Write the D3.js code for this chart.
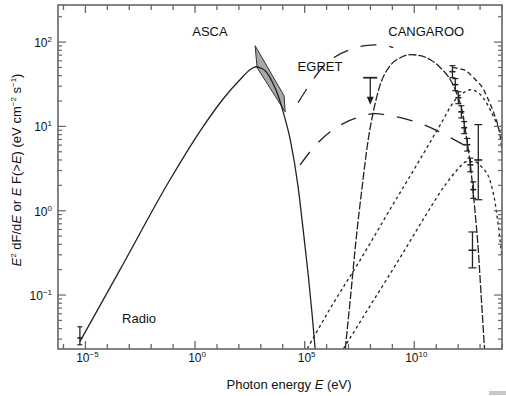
<!DOCTYPE html>
<html>
<head>
<meta charset="utf-8">
<script src="https://d3js.org/d3.v7.min.js"></script>
<style>
  body { margin: 0; background: #fff; }
  text { font-family: "Liberation Sans", Arial, sans-serif; fill: #111; }
</style>
</head>
<body>
<div id="chart"></div>
<script>
// photon energy E (eV), flux E^2 dF/dE (eV cm^-2 s^-1)
var synchrotron = [
  [5.6e-6, 0.028], [3.8e-4, 0.2], [0.072, 2.33], [1.7, 8.8], [23, 22.5],
  [112, 35.8], [324, 47.1], [617, 51], [1150, 48.3], [1580, 45.8],
  [3300, 33.9], [6200, 23.1], [1.04e4, 14.9], [2.2e4, 6.95], [5.0e4, 1.93],
  [8.5e4, 0.60], [1.45e5, 0.174], [2.2e5, 0.058], [3.0e5, 0.023]
];
var ascaBowtie = [[550, 90.6], [1.15e4, 23.1], [1.29e4, 14.9], [676, 49.7]];

var pionCurve = [
  [7.1e6, 0.023], [1.2e7, 0.088], [2.2e7, 0.45], [4.3e7, 2.03], [7.9e7, 6.95],
  [1.35e8, 14.9], [2.8e8, 31.3], [7.9e8, 52.5], [2.3e9, 65.3], [6.6e9, 71],
  [1.9e10, 69], [5.4e10, 61.8], [1.55e11, 49.7], [4.4e11, 35.8], [9.1e11, 23.8],
  [1.55e12, 14.9], [2.3e12, 8.0], [3.6e12, 3.5], [5.5e12, 1.18], [8.3e12, 0.34],
  [1.15e13, 0.088], [1.6e13, 0.023]
];
var bremsUpper = [
  [5.0e4, 19.1], [1.8e5, 32.1], [6.3e5, 49.7], [2.5e6, 67.1], [1.2e7, 81.3],
  [5.8e7, 90.6], [2.8e8, 93.1], [1.1e9, 85.7]
];
var bremsLower = [
  [6.2e4, 3.5], [3.0e5, 5.9], [1.45e6, 8.65], [7.1e6, 11.1], [3.4e7, 13.0],
  [1.66e8, 14.2], [7.9e8, 13.4], [3.9e9, 12.3], [1.9e10, 10.8], [9.1e10, 9.1],
  [4.4e11, 7.35], [2.1e12, 5.9], [3.6e12, 5.4]
];
var icUpper = [
  [1.3e5, 0.023], [1.45e6, 0.069], [3.4e7, 0.26], [7.9e8, 1.04], [1.9e10, 4.14],
  [1.55e11, 10.5], [7.4e11, 20.7], [1.74e12, 25.1], [3.6e12, 27.2], [8.3e12, 25.1],
  [1.95e13, 19.1], [4.1e13, 13.0], [6.9e13, 9.7], [1.15e14, 6.6]
];
var icLower = [
  [5.8e6, 0.023], [9.8e7, 0.075], [2.3e9, 0.28], [3.2e10, 0.87], [2.6e11, 2.03],
  [1.02e12, 3.15], [2.3e12, 3.81], [5.5e12, 3.81], [1.26e13, 3.24], [2.95e13, 2.21],
  [5.0e13, 1.18], [7.6e13, 0.52], [1.15e14, 0.20]
];
var tevCurve = [
  [5.5e11, 49.7], [1.74e12, 47.1], [6.2e12, 35.8], [1.29e13, 28.8], [2.4e13, 20.7],
  [4.5e13, 13.8], [6.9e13, 9.7], [9.3e13, 6.1], [1.15e14, 3.5]
];

// [E, F, F low, F high]
var cangarooDiff = [
  [5.5e11, 44.6, 37.8, 52.5], [7.4e11, 31.3, 26.5, 36.9], [1.02e12, 21.9, 18.6, 25.8],
  [1.4e12, 14.9, 12.6, 17.6], [1.9e12, 9.65, 8.2, 11.4], [2.6e12, 6.07, 5.1, 7.2],
  [3.6e12, 3.5, 2.9, 4.2], [4.9e12, 1.78, 1.4, 2.2]
];
var cangarooInt = [[8.3e12, 4.0, 1.35, 10.5], [4.5e12, 0.34, 0.21, 0.56]];
var radioPoint = [[5.6e-6, 0.031, 0.0257, 0.042]];
var egretLimit = [[9.8e7, 37.8, 18.1]];

var xLabelExp = [-5, 0, 5, 10];
var yLabelExp = [-1, 0, 1, 2];
var labels = [
  {text: "ASCA", e: 4.8, f: 119},
  {text: "CANGAROO", e: 3.5e10, f: 119},
  {text: "EGRET", e: 5.0e5, f: 46},
  {text: "Radio", e: 2.8e-3, f: 0.046}
];

var W = 506, H = 396;
var x = d3.scaleLog().domain([Math.pow(10, -6.25), 1e14]).range([58, 502]);
var y = d3.scaleLog().domain([Math.pow(10, -1.64), Math.pow(10, 2.44)]).range([349, 5]);

var svg = d3.select("#chart").append("svg").attr("width", W).attr("height", H);

svg.append("defs").append("clipPath").attr("id", "plotclip")
  .append("rect").attr("x", 58).attr("y", 5).attr("width", 444).attr("height", 344);

var plot = svg.append("g").attr("clip-path", "url(#plotclip)");

var line = d3.line()
  .x(function(d) { return x(d[0]); })
  .y(function(d) { return y(d[1]); })
  .curve(d3.curveMonotoneX);

// ASCA bowtie
plot.append("path")
  .attr("d", d3.line().x(function(d) { return x(d[0]); }).y(function(d) { return y(d[1]); })(ascaBowtie) + "Z")
  .attr("fill", "#a8a8a8").attr("stroke", "#333").attr("stroke-width", 1);

function curve(data, dash, w) {
  plot.append("path").attr("d", line(data))
    .attr("fill", "none").attr("stroke", "#222")
    .attr("stroke-width", w || 1.3)
    .attr("stroke-dasharray", dash);
}
curve(synchrotron, null, 1.3);
curve(pionCurve, "8,2");
curve(bremsUpper, "16,13");
curve(bremsLower, "16,13");
curve(icUpper, "3,3");
curve(icLower, "3,3");
curve(tevCurve, "5,3");

// error bars
function errbars(data, cap) {
  data.forEach(function(d) {
    var cx = x(d[0]);
    plot.append("line").attr("x1", cx).attr("x2", cx).attr("y1", y(d[2])).attr("y2", y(d[3]))
      .attr("stroke", "#222").attr("stroke-width", 1.3);
    [d[2], d[3]].forEach(function(v) {
      plot.append("line").attr("x1", cx - cap).attr("x2", cx + cap).attr("y1", y(v)).attr("y2", y(v))
        .attr("stroke", "#222").attr("stroke-width", 1.2);
    });
    plot.append("line").attr("x1", cx - cap).attr("x2", cx + cap).attr("y1", y(d[1])).attr("y2", y(d[1]))
      .attr("stroke", "#222").attr("stroke-width", 1.6);
  });
}
errbars(cangarooDiff, 3);
errbars(cangarooInt, 4);
errbars(radioPoint, 2.5);

// EGRET upper limit
egretLimit.forEach(function(d) {
  var cx = x(d[0]);
  plot.append("line").attr("x1", cx - 7).attr("x2", cx + 7).attr("y1", y(d[1])).attr("y2", y(d[1]))
    .attr("stroke", "#222").attr("stroke-width", 1.8);
  plot.append("line").attr("x1", cx).attr("x2", cx).attr("y1", y(d[1])).attr("y2", y(d[2]) - 6)
    .attr("stroke", "#222").attr("stroke-width", 1.3);
  plot.append("path")
    .attr("d", "M" + (cx - 3.5) + "," + (y(d[2]) - 8) + "L" + (cx + 3.5) + "," + (y(d[2]) - 8) + "L" + cx + "," + y(d[2]) + "Z")
    .attr("fill", "#222");
});

// labels
labels.forEach(function(l) {
  svg.append("text").attr("x", x(l.e)).attr("y", y(l.f)).attr("text-anchor", "middle")
    .attr("font-size", 13).text(l.text);
});

// frame and ticks
var frame = svg.append("g");
frame.append("rect").attr("x", 58).attr("y", 5).attr("width", 444).attr("height", 344)
  .attr("fill", "none").attr("stroke", "#666").attr("stroke-width", 1.6);

d3.range(-6, 15).forEach(function(k) {
  var px = x(Math.pow(10, k));
  var len = (k % 5 === 0) ? 8 : 5;
  frame.append("line").attr("x1", px).attr("x2", px).attr("y1", 349).attr("y2", 349 - len)
    .attr("stroke", "#666").attr("stroke-width", 1.3);
  frame.append("line").attr("x1", px).attr("x2", px).attr("y1", 5).attr("y2", 5 + len)
    .attr("stroke", "#666").attr("stroke-width", 1.3);
});
y.ticks().forEach(function(t) {
  var major = Math.abs(Math.log10(t) - Math.round(Math.log10(t))) < 1e-6;
  var len = major ? 8 : 4;
  var py = y(t);
  frame.append("line").attr("x1", 58).attr("x2", 58 + len).attr("y1", py).attr("y2", py)
    .attr("stroke", "#666").attr("stroke-width", 1.2);
  frame.append("line").attr("x1", 502).attr("x2", 502 - len).attr("y1", py).attr("y2", py)
    .attr("stroke", "#666").attr("stroke-width", 1.2);
});

function powLabel(sel, k) {
  sel.append("tspan").text("10");
  sel.append("tspan").attr("dy", -5).attr("font-size", 8).text(k < 0 ? "\u2212" + (-k) : k);
}
xLabelExp.forEach(function(k) {
  var t = svg.append("text").attr("x", x(Math.pow(10, k)) + 2).attr("y", 362)
    .attr("text-anchor", "middle").attr("font-size", 12);
  powLabel(t, k);
});
yLabelExp.forEach(function(k) {
  var t = svg.append("text").attr("x", 52).attr("y", y(Math.pow(10, k)) + 5)
    .attr("text-anchor", "end").attr("font-size", 12);
  powLabel(t, k);
});

// axis titles
var xt = svg.append("text").attr("x", 289).attr("y", 389).attr("text-anchor", "middle").attr("font-size", 13);
xt.append("tspan").text("Photon energy ");
xt.append("tspan").attr("font-style", "italic").text("E");
xt.append("tspan").text(" (eV)");

var yt = svg.append("text").attr("transform", "translate(21,170) rotate(-90)")
  .attr("text-anchor", "middle").attr("font-size", 13);
yt.append("tspan").attr("font-style", "italic").text("E");
yt.append("tspan").attr("dy", -5).attr("font-size", 8).text("2");
yt.append("tspan").attr("dy", 5).text(" dF/d");
yt.append("tspan").attr("font-style", "italic").text("E");
yt.append("tspan").text(" or ");
yt.append("tspan").attr("font-style", "italic").text("E");
yt.append("tspan").text(" F(>");
yt.append("tspan").attr("font-style", "italic").text("E");
yt.append("tspan").text(")  (eV cm");
yt.append("tspan").attr("dy", -5).attr("font-size", 8).text("\u22122");
yt.append("tspan").attr("dy", 5).text(" s");
yt.append("tspan").attr("dy", -5).attr("font-size", 8).text("\u22121");
yt.append("tspan").attr("dy", 5).text(")");

// small grey mark at lower right
svg.append("rect").attr("x", 489).attr("y", 391).attr("width", 17).attr("height", 4).attr("fill", "#c8c8c8");
</script>
</body>
</html>
